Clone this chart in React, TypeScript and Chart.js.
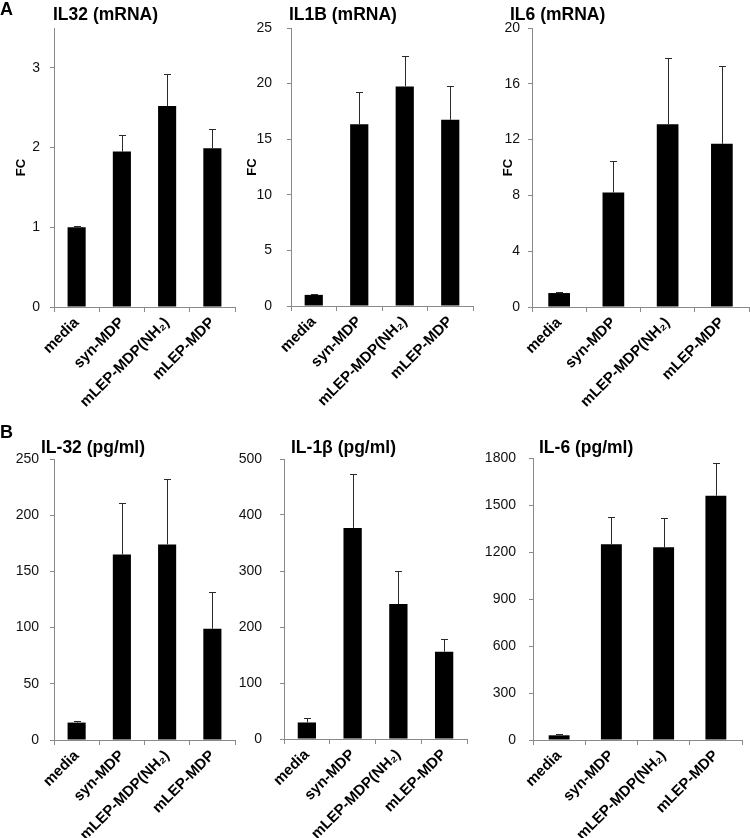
import React, { useEffect, useRef } from 'react';
import { Chart, registerables } from 'chart.js';

Chart.register(...registerables);

const FONT = 'Arial, "Liberation Sans", Helvetica, sans-serif';

// ---- data ----
const categories = ['media', 'syn-MDP', 'mLEP-MDP(NH\u2082)', 'mLEP-MDP'];

const il32mRNA = [1.0, 1.95, 2.52, 1.99];
const il32mRNAErr = [0.01, 0.21, 0.4, 0.24];

const il1bMRNA = [1.0, 16.35, 19.75, 16.75];
const il1bMRNAErr = [0.05, 2.9, 2.75, 3.0];

const il6mRNA = [1.0, 8.2, 13.1, 11.7];
const il6mRNAErr = [0.05, 2.3, 4.75, 5.55];

const il32Protein = [15.5, 165, 174, 99];
const il32ProteinErr = [1, 45.5, 58.5, 33];

const il1bProtein = [29.5, 377, 241, 156];
const il1bProteinErr = [7.5, 96, 59, 23];

const il6Protein = [30, 1249, 1230, 1559];
const il6ProteinErr = [6, 176, 187, 211];

// axis ranges: [max, step]
const il32mRNAAxis = [3.5, 1];
const il1bMRNAAxis = [25, 5];
const il6mRNAAxis = [20, 4];
const il32ProteinAxis = [250, 50];
const il1bProteinAxis = [500, 100];
const il6ProteinAxis = [1800, 300];

type Box = { left: number; top: number; width: number; height: number };
type Area = { left: number; right: number; top: number; bottom: number };

type PanelCfg = {
  title: string;
  values: number[];
  errors: number[];
  axis: number[];
  yTitle: string;
  yTitlePad: number;
  tickPad: number;
  titleLeft: number;
  titleTop: number;
  canvas: Box;
  area: Area;
};

const panels: PanelCfg[] = [
  {
    title: 'IL32 (mRNA)', values: il32mRNA, errors: il32mRNAErr, axis: il32mRNAAxis,
    yTitle: 'FC', yTitlePad: 14, tickPad: 10, titleLeft: 53, titleTop: 5,
    canvas: { left: 0, top: 0, width: 245, height: 420 },
    area: { left: 54, right: 235, top: 28, bottom: 307 },
  },
  {
    title: 'IL1B (mRNA)', values: il1bMRNA, errors: il1bMRNAErr, axis: il1bMRNAAxis,
    yTitle: 'FC', yTitlePad: 0, tickPad: 15, titleLeft: 289, titleTop: 5,
    canvas: { left: 245, top: 0, width: 250, height: 420 },
    area: { left: 291, right: 473, top: 28, bottom: 306 },
  },
  {
    title: 'IL6 (mRNA)', values: il6mRNA, errors: il6mRNAErr, axis: il6mRNAAxis,
    yTitle: 'FC', yTitlePad: 21, tickPad: 8, titleLeft: 510, titleTop: 5,
    canvas: { left: 480, top: 0, width: 270, height: 420 },
    area: { left: 532, right: 749, top: 28, bottom: 307 },
  },
  {
    title: 'IL-32 (pg/ml)', values: il32Protein, errors: il32ProteinErr, axis: il32ProteinAxis,
    yTitle: '', yTitlePad: 0, tickPad: 11, titleLeft: 41, titleTop: 438,
    canvas: { left: 0, top: 420, width: 245, height: 418 },
    area: { left: 54, right: 235, top: 459, bottom: 740 },
  },
  {
    title: 'IL-1\u03b2 (pg/ml)', values: il1bProtein, errors: il1bProteinErr, axis: il1bProteinAxis,
    yTitle: '', yTitlePad: 0, tickPad: 18, titleLeft: 291, titleTop: 438,
    canvas: { left: 235, top: 420, width: 260, height: 418 },
    area: { left: 284, right: 467, top: 459, bottom: 739 },
  },
  {
    title: 'IL-6 (pg/ml)', values: il6Protein, errors: il6ProteinErr, axis: il6ProteinAxis,
    yTitle: '', yTitlePad: 0, tickPad: 13, titleLeft: 539, titleTop: 438,
    canvas: { left: 470, top: 420, width: 280, height: 418 },
    area: { left: 533, right: 742, top: 458, bottom: 740 },
  },
];

const AXIS_COLOR = '#8a8a8a';

const errorBarPlugin = {
  id: 'errorBars',
  afterDatasetsDraw(chart: any, _args: any, opts: any) {
    const errs: number[] = opts.errors || [];
    const meta = chart.getDatasetMeta(0);
    const yScale = chart.scales.y;
    const vals = chart.data.datasets[0].data as number[];
    const ctx = chart.ctx;
    ctx.save();
    ctx.strokeStyle = opts.color || '#333';
    ctx.lineWidth = 1;
    meta.data.forEach((bar: any, i: number) => {
      const v = vals[i];
      const e = errs[i] || 0;
      const x = Math.round(bar.x) + 0.5;
      const y0 = yScale.getPixelForValue(v);
      const y1 = Math.round(yScale.getPixelForValue(v + e)) + 0.5;
      ctx.beginPath();
      ctx.moveTo(x, y0);
      ctx.lineTo(x, y1);
      ctx.moveTo(x - 3.5, y1);
      ctx.lineTo(x + 3.5, y1);
      ctx.stroke();
    });
    ctx.restore();
  },
};

function Panel({ cfg }: { cfg: PanelCfg }) {
  const ref = useRef<HTMLCanvasElement | null>(null);
  useEffect(() => {
    if (!ref.current) return;
    const { canvas, area, axis } = cfg;
    const [yMax, yStep] = axis;
    const chart = new Chart(ref.current, {
      type: 'bar',
      data: {
        labels: categories,
        datasets: [
          {
            data: cfg.values,
            backgroundColor: '#000000',
            borderWidth: 0,
            barPercentage: 0.4,
            categoryPercentage: 1,
          },
        ],
      },
      plugins: [errorBarPlugin],
      options: {
        responsive: false,
        animation: false,
        devicePixelRatio: 1,
        layout: {
          padding: {
            left: 0,
            top: area.top - canvas.top,
            right: canvas.left + canvas.width - area.right,
            bottom: 0,
          },
        },
        plugins: {
          legend: { display: false },
          tooltip: { enabled: false },
          title: { display: false },
          errorBars: { errors: cfg.errors, color: '#2a2a2a' },
        } as any,
        scales: {
          x: {
            type: 'category',
            offset: true,
            grid: {
              offset: true,
              drawOnChartArea: false,
              drawTicks: true,
              tickLength: 5,
              color: AXIS_COLOR,
            },
            border: { display: true, color: AXIS_COLOR, width: 1 },
            ticks: {
              autoSkip: false,
              maxRotation: 45,
              minRotation: 45,
              padding: 2,
              color: '#000',
              font: { family: FONT, size: 15, weight: 'bold' },
            },
            afterFit: (scale: any) => {
              scale.height = canvas.top + canvas.height - area.bottom;
            },
          },
          y: {
            type: 'linear',
            min: 0,
            max: yMax,
            grid: {
              drawOnChartArea: false,
              drawTicks: true,
              tickLength: 4,
              color: AXIS_COLOR,
            },
            border: { display: true, color: AXIS_COLOR, width: 1 },
            ticks: {
              stepSize: yStep,
              padding: cfg.tickPad,
              color: '#111',
              font: { family: FONT, size: 14 },
              callback: (v: any) => String(v),
            },
            afterBuildTicks: (scale: any) => {
              scale.ticks = scale.ticks.filter(
                (t: any) => Math.abs(t.value / yStep - Math.round(t.value / yStep)) < 1e-6
              );
            },
            title: {
              display: cfg.yTitle !== '',
              text: cfg.yTitle,
              color: '#000',
              padding: { top: cfg.yTitlePad, bottom: 0 },
              font: { family: FONT, size: 13, weight: 'bold' },
            },
            afterFit: (scale: any) => {
              scale.width = area.left - canvas.left;
            },
          },
        },
      } as any,
    });
    return () => chart.destroy();
  }, [cfg]);

  const { canvas } = cfg;
  return (
    <canvas
      ref={ref}
      width={canvas.width}
      height={canvas.height}
      style={{
        position: 'absolute',
        left: canvas.left,
        top: canvas.top,
        width: canvas.width,
        height: canvas.height,
      }}
    />
  );
}

const titleStyle: React.CSSProperties = {
  position: 'absolute',
  fontFamily: FONT,
  fontWeight: 'bold',
  fontSize: 17.5,
  lineHeight: '18px',
  whiteSpace: 'nowrap',
  color: '#000',
};

export default function App() {
  return (
    <div
      style={{
        position: 'absolute',
        left: 0,
        top: 0,
        width: 750,
        height: 838,
        background: '#fff',
        overflow: 'hidden',
      }}
    >
      {panels.map((p, i) => (
        <Panel key={i} cfg={p} />
      ))}
      {panels.map((p, i) => (
        <div key={'t' + i} style={{ ...titleStyle, left: p.titleLeft, top: p.titleTop }}>
          {p.title}
        </div>
      ))}
      <div style={{ ...titleStyle, fontSize: 18, left: 0, top: 0 }}>A</div>
      <div style={{ ...titleStyle, fontSize: 18, left: 0, top: 423 }}>B</div>
    </div>
  );
}
